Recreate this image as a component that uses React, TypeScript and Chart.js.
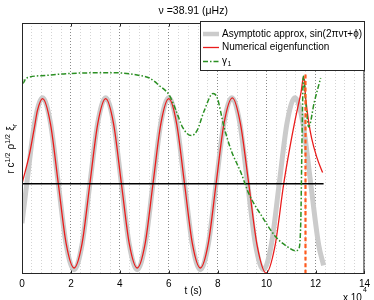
import React, { useEffect, useRef } from "react";
import { Chart, registerables } from "chart.js";
Chart.register(...registerables);

const FONT = "'Liberation Sans', Arial, Helvetica, sans-serif";

const titleText = "ν =38.91 (μHz)";
const xAxisLabel = "t (s)";
const xExpBase = "x 10";
const xExpPower = "4";
const legendLabels = ["Asymptotic approx, sin(2πντ+ϕ)", "Numerical eigenfunction", "γ"];
const legendSub = "1";
const xMajorTicks = [0, 2, 4, 6, 8, 10, 12, 14];

// Asymptotic approximation (grey)
const asymT = [0, 0.195, 0.5175, 0.84, 1.1625, 1.485, 1.8075, 2.13, 2.4525, 2.775, 3.0975, 3.42, 3.7425, 4.065, 4.3875, 4.71, 5.0325, 5.355, 5.6775, 6.0, 6.3225, 6.645, 6.9675, 7.29, 7.6125, 7.935, 8.2575, 8.58, 8.9025, 9.225, 9.5475, 9.87, 10.1925, 10.515, 10.8375, 11.16, 11.4825, 11.805, 12.1275, 12.33];
const asymV = [-0.46, 0, 0.71, 1, 0.71, 0, -0.71, -1, -0.71, 0, 0.71, 1, 0.71, 0, -0.71, -1, -0.71, 0, 0.71, 1, 0.71, 0, -0.71, -1, -0.71, 0, 0.71, 1, 0.71, 0, -0.71, -1, -0.71, 0, 0.71, 1, 0.71, 0, -0.71, -0.95];

// Numerical eigenfunction (red)
const numT = [0, 0.31, 0.51, 0.63, 0.84, 1.1625, 1.485, 1.8075, 2.13, 2.4525, 2.775, 3.0975, 3.42, 3.7425, 4.065, 4.3875, 4.71, 5.0325, 5.355, 5.6775, 6.0, 6.3225, 6.645, 6.9675, 7.29, 7.6125, 7.935, 8.2575, 8.6, 8.93, 9.27, 9.62, 9.98, 10.34, 10.7, 10.95, 11.15, 11.3, 11.4, 11.52, 11.6, 11.72, 11.84, 12.05, 12.29];
const numV = [0, 0.35, 0.66, 0.85, 0.99, 0.7, 0, -0.7, -0.98, -0.7, 0, 0.7, 0.99, 0.7, 0, -0.7, -0.98, -0.7, 0, 0.7, 0.99, 0.7, 0, -0.7, -0.98, -0.7, 0, 0.7, 1.0, 0.7, 0, -0.73, -1.04, -0.73, 0, 0.42, 0.72, 0.92, 1.05, 1.25, 0.99, 0.72, 0.53, 0.31, 0.13];

// gamma_1 (green dash-dot)
const gammaT = [0, 0.04, 0.15, 0.3, 1.0, 1.8, 2.9, 3.9, 4.8, 5.21, 5.62, 6.02, 6.3, 6.56, 6.92, 7.16, 7.45, 7.81, 7.98, 8.26, 8.55, 8.95, 9.28, 9.81, 10.38, 10.79, 11.19, 11.31, 11.4, 11.44, 11.47, 11.5, 11.6, 11.72, 11.95, 12.21];
const gammaV = [1.3, 1.17, 1.22, 1.24, 1.26, 1.28, 1.29, 1.29, 1.26, 1.23, 1.14, 1.03, 0.85, 0.66, 0.56, 0.62, 0.85, 1.05, 1.0, 0.66, 0.39, 0.13, -0.12, -0.38, -0.62, -0.72, -0.78, -0.76, -0.41, 0.36, 0.9, 1.25, 0.95, 0.66, 0.95, 1.23];

// zero line and vertical marker
const zeroT = [0, 12.33];
const zeroV = [0, 0];
const markT = [11.59, 11.59];
const markV = [1.27, -1.05];

const xMin = 0, xMax = 14, yMin = -1.05, yMax = 1.87;

const pts = (t: number[], v: number[]) => t.map((x, i) => ({ x, y: v[i] }));

const GREY = "#cbcbcb";
const RED = "#ea1c1c";
const GREEN = "#2a8f22";
const ORANGE = "#ff5a1e";
const GREEN_DASH = [5, 2, 1.5, 2];

const overlay = {
  id: "overlay",
  afterDraw(chart: any) {
    const { ctx, chartArea: a, scales } = chart;
    const xs = scales.x;
    ctx.save();
    ctx.setLineDash([]);
    // frame
    ctx.strokeStyle = "#262626";
    ctx.lineWidth = 1;
    ctx.strokeRect(a.left + 0.5, a.top + 0.5, a.right - a.left - 1, a.bottom - a.top - 1);
    // inner ticks
    ctx.beginPath();
    for (const v of xMajorTicks) {
      const px = Math.round(xs.getPixelForValue(v)) + 0.5;
      ctx.moveTo(px, a.bottom);
      ctx.lineTo(px, a.bottom - 3.5);
      ctx.moveTo(px, a.top);
      ctx.lineTo(px, a.top + 3.5);
    }
    ctx.stroke();

    const cx = (a.left + a.right) / 2;
    ctx.fillStyle = "#000";
    ctx.font = `10.5px ${FONT}`;
    ctx.textAlign = "center";
    ctx.textBaseline = "middle";
    ctx.fillText(titleText, cx, 11);
    ctx.font = `10px ${FONT}`;
    ctx.fillText(xAxisLabel, cx, 291);

    ctx.textAlign = "left";
    ctx.textBaseline = "alphabetic";
    ctx.fillText(xExpBase, 343, 301);
    ctx.font = `7px ${FONT}`;
    ctx.fillText(xExpPower, 363, 292);

    // y label (rotated, with super/subscripts)
    const parts = [
      { t: "r c", s: 0 },
      { t: "1/2", s: 1 },
      { t: " ρ", s: 0 },
      { t: "1/2", s: 1 },
      { t: " ξ", s: 0 },
      { t: "r", s: -1 },
    ];
    const fontFor = (s: number) => (s === 0 ? `10px ${FONT}` : `7px ${FONT}`);
    let total = 0;
    for (const p of parts) {
      ctx.font = fontFor(p.s);
      total += ctx.measureText(p.t).width + (p.s !== 0 ? 0.5 : 0);
    }
    ctx.translate(14, (a.top + a.bottom) / 2);
    ctx.rotate(-Math.PI / 2);
    let px = -total / 2;
    for (const p of parts) {
      ctx.font = fontFor(p.s);
      const dy = p.s === 1 ? -4.5 : p.s === -1 ? 2.5 : 0;
      ctx.fillText(p.t, px, dy);
      px += ctx.measureText(p.t).width + (p.s !== 0 ? 0.5 : 0);
    }
    ctx.setTransform(1, 0, 0, 1, 0, 0);

    // legend
    const bx = 200, by = 21, bw = 164, bh = 49;
    ctx.fillStyle = "#fff";
    ctx.fillRect(bx, by, bw, bh);
    ctx.strokeStyle = "#262626";
    ctx.lineWidth = 1;
    ctx.strokeRect(bx + 0.5, by + 0.5, bw, bh);
    const rows = [34, 47.5, 61.5];
    const sx1 = 203, sx2 = 219, tx = 222;
    ctx.lineCap = "butt";
    ctx.strokeStyle = GREY;
    ctx.lineWidth = 4.5;
    ctx.beginPath(); ctx.moveTo(sx1, rows[0]); ctx.lineTo(sx2, rows[0]); ctx.stroke();
    ctx.strokeStyle = RED;
    ctx.lineWidth = 1.3;
    ctx.beginPath(); ctx.moveTo(sx1, rows[1]); ctx.lineTo(sx2, rows[1]); ctx.stroke();
    ctx.strokeStyle = GREEN;
    ctx.lineWidth = 1.5;
    ctx.setLineDash(GREEN_DASH);
    ctx.beginPath(); ctx.moveTo(sx1, rows[2]); ctx.lineTo(sx2, rows[2]); ctx.stroke();
    ctx.setLineDash([]);

    ctx.fillStyle = "#000";
    ctx.font = `10px ${FONT}`;
    ctx.textBaseline = "middle";
    ctx.fillText(legendLabels[0], tx, rows[0]);
    ctx.fillText(legendLabels[1], tx, rows[1]);
    ctx.fillText(legendLabels[2], tx, rows[2]);
    const gw = ctx.measureText(legendLabels[2]).width;
    ctx.font = `7px ${FONT}`;
    ctx.fillText(legendSub, tx + gw + 0.5, rows[2] + 3);
    ctx.restore();
  },
};

export default function App() {
  const ref = useRef<HTMLCanvasElement | null>(null);
  useEffect(() => {
    document.body.style.margin = "0";
    const canvas = ref.current;
    if (!canvas) return;
    const common = { pointRadius: 0, pointHoverRadius: 0, fill: false, cubicInterpolationMode: "monotone" as const };
    const chart = new Chart(canvas, {
      type: "line",
      data: {
        datasets: [
          { ...common, label: "asym", data: pts(asymT, asymV), borderColor: GREY, borderWidth: 5, order: 5 },
          { ...common, label: "num", data: pts(numT, numV), borderColor: RED, borderWidth: 1.3, order: 4 },
          { ...common, label: "zero", data: pts(zeroT, zeroV), borderColor: "#000", borderWidth: 1.3, order: 3 },
          { ...common, label: "gamma", data: pts(gammaT, gammaV), borderColor: GREEN, borderWidth: 1.5, borderDash: GREEN_DASH, order: 2 },
          { ...common, label: "mark", data: pts(markT, markV), borderColor: ORANGE, borderWidth: 2.2, borderDash: [4, 2.5], order: 1 },
        ],
      },
      options: {
        responsive: false,
        animation: false,
        devicePixelRatio: 1,
        parsing: false as any,
        layout: { padding: { top: 23, right: 8, left: 0, bottom: 0 } },
        plugins: { legend: { display: false }, title: { display: false }, tooltip: { enabled: false } },
        events: [],
        scales: {
          x: {
            type: "linear",
            min: xMin,
            max: xMax,
            ticks: {
              stepSize: 0.4,
              autoSkip: false,
              maxRotation: 0,
              padding: 4,
              color: "#000",
              font: { family: FONT, size: 10 },
              callback: (v: any) => {
                const n = Number(v);
                return xMajorTicks.some((m) => Math.abs(m - n) < 1e-6) ? String(Math.round(n)) : "";
              },
            },
            grid: {
              drawTicks: false,
              lineWidth: 1,
              color: (c: any) => {
                const n = c.tick ? c.tick.value : 0;
                return xMajorTicks.some((m) => Math.abs(m - n) < 1e-6) ? "#8a8a8a" : "#d4d4d4";
              },
            },
            border: { display: false, dash: [1, 2] },
            afterFit: (s: any) => { s.height = 26; },
          },
          y: {
            type: "linear",
            min: yMin,
            max: yMax,
            ticks: { display: false },
            grid: { display: false },
            border: { display: false },
            afterFit: (s: any) => { s.width = 22; },
          },
        },
      } as any,
      plugins: [overlay],
    });
    return () => chart.destroy();
  }, []);
  return (
    <div style={{ width: 374, height: 300 }}>
      <canvas ref={ref} width={374} height={300} />
    </div>
  );
}
